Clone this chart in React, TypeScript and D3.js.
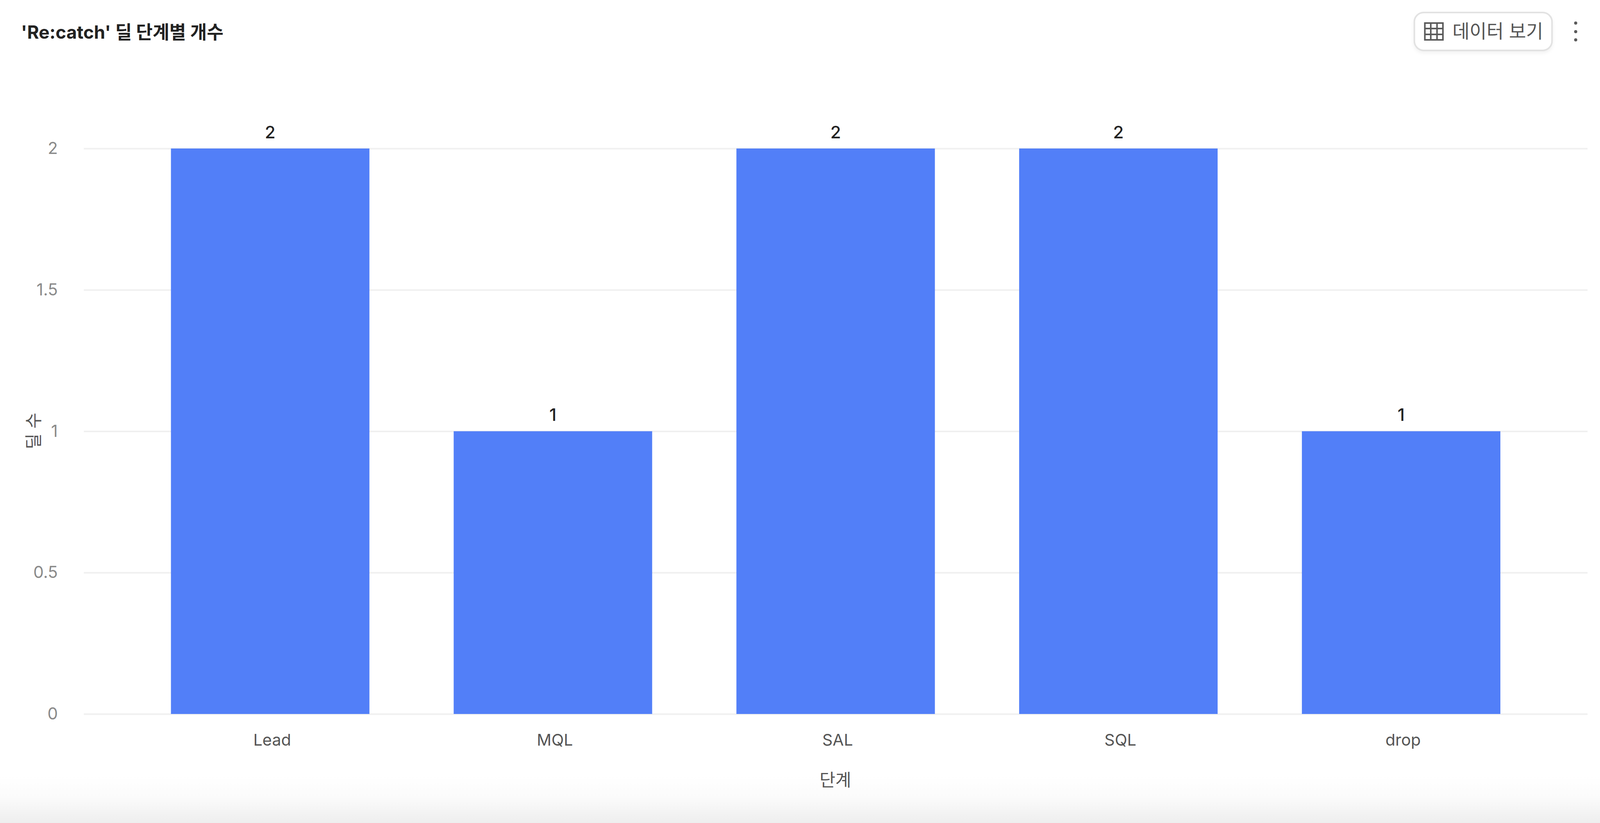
import { useEffect, useRef } from "react";
import * as d3 from "d3";

// medidas de la referencia
const REF_W = 4869;
const REF_H = 2106;
const FONT = "Inter, 'Noto Sans CJK KR', sans-serif";

const categories = ["Lead", "MQL", "SAL", "SQL", "drop"];
const dealCounts = [2, 1, 2, 2, 1];
const yTicks = [0, 0.5, 1, 1.5, 2];

const chartTitle = "'Re:catch' 딜 단계별 개수";
const xTitle = "단계";
const yTitle = "딜 수";
const buttonLabel = "데이터 보기";

export default function App() {
  const ref = useRef<SVGSVGElement>(null);

  useEffect(() => {
    if (!ref.current) return;
    // la ventana real puede ser más estrecha que la referencia
    const W = Math.min(window.innerWidth, REF_W);
    const H = Math.min(window.innerHeight, REF_H);
    const X = d3.scaleLinear().domain([0, REF_W]).range([0, W]);
    const Y = d3.scaleLinear().domain([0, REF_H]).range([0, H]);
    const sx = W / REF_W;
    const sy = H / REF_H;
    const fs = (size: number) => size * (sx * 0.75 + sy * 0.25);

    const svg = d3.select(ref.current);
    svg.selectAll("*").remove();
    svg.attr("width", W).attr("height", H).style("font-family", FONT);

    const x = d3
      .scaleBand<string>()
      .domain(categories)
      .range([X(392), X(4694)])
      .paddingInner(0.298)
      .paddingOuter(0.149);
    const y = d3.scaleLinear().domain([0, 2]).range([Y(1827), Y(380)]);

    // fondo y sombra inferior
    const defs = svg.append("defs");
    const fade = defs
      .append("linearGradient")
      .attr("id", "fade")
      .attr("x1", 0)
      .attr("x2", 0)
      .attr("y1", 0)
      .attr("y2", 1);
    fade.append("stop").attr("offset", 0).attr("stop-color", "#ffffff");
    fade.append("stop").attr("offset", 0.45).attr("stop-color", "#fbfbfb");
    fade.append("stop").attr("offset", 1).attr("stop-color", "#eeeeee");

    svg.append("rect").attr("width", W).attr("height", H).attr("fill", "#fff");
    svg
      .append("rect")
      .attr("y", Y(1986))
      .attr("width", W)
      .attr("height", H - Y(1986))
      .attr("fill", "url(#fade)");

    // eje Y con rejilla
    const yAxis = svg
      .append("g")
      .attr("transform", `translate(${X(255)},0)`)
      .call(
        d3
          .axisLeft(y)
          .tickValues(yTicks)
          .tickFormat((d) => String(d))
          .tickSize(-(X(4831) - X(255)))
          .tickPadding(X(79))
      );
    yAxis.select(".domain").remove();
    yAxis.selectAll(".tick line").attr("stroke", "#f0f0f0").attr("stroke-width", 4);
    yAxis
      .selectAll(".tick text")
      .attr("fill", "#8a8a8a")
      .attr("font-size", fs(48))
      .attr("font-family", FONT);

    // barras
    svg
      .selectAll(".bar")
      .data(categories)
      .enter()
      .append("rect")
      .attr("class", "bar")
      .attr("x", (d) => x(d) || 0)
      .attr("y", (_, i) => y(dealCounts[i]))
      .attr("width", x.bandwidth())
      .attr("height", (_, i) => y(0) - y(dealCounts[i]))
      .attr("fill", "#527ff8");

    // etiquetas de valor
    svg
      .selectAll(".label")
      .data(categories)
      .enter()
      .append("text")
      .attr("class", "label")
      .attr("x", (d) => (x(d) || 0) + x.bandwidth() / 2)
      .attr("y", (_, i) => y(dealCounts[i]) - Y(42))
      .attr("dy", "0.36em")
      .attr("text-anchor", "middle")
      .attr("font-size", fs(50))
      .attr("font-weight", 500)
      .attr("fill", "#222222")
      .text((_, i) => dealCounts[i]);

    // eje X
    const xAxis = svg
      .append("g")
      .attr("transform", `translate(${X(6)},${y(0)})`)
      .call(d3.axisBottom(x).tickSize(0).tickPadding(Y(66) - fs(47) * 0.35));
    xAxis.select(".domain").remove();
    xAxis
      .selectAll(".tick text")
      .attr("fill", "#555555")
      .attr("font-size", fs(47))
      .attr("font-family", FONT);

    // títulos
    svg
      .append("text")
      .attr("x", X(64))
      .attr("y", Y(82))
      .attr("dy", "0.36em")
      .attr("font-size", fs(52.5))
      .attr("font-weight", 700)
      .attr("fill", "#222222")
      .text(chartTitle);
    svg
      .append("text")
      .attr("x", X(2542))
      .attr("y", Y(1996))
      .attr("dy", "0.36em")
      .attr("text-anchor", "middle")
      .attr("font-size", fs(50))
      .attr("fill", "#555555")
      .text(xTitle);
    svg
      .append("text")
      .attr("transform", `translate(${X(102)},${Y(1103)}) rotate(-90)`)
      .attr("dy", "0.36em")
      .attr("text-anchor", "middle")
      .attr("font-size", fs(50))
      .attr("fill", "#555555")
      .text(yTitle);

    // botón "데이터 보기"
    const shadow = defs.append("filter").attr("id", "btnShadow").attr("y", "-20%").attr("height", "150%");
    shadow
      .append("feDropShadow")
      .attr("dx", 0)
      .attr("dy", 5)
      .attr("stdDeviation", 4)
      .attr("flood-color", "#000")
      .attr("flood-opacity", 0.05);
    svg
      .append("rect")
      .attr("x", X(4304))
      .attr("y", Y(32))
      .attr("width", X(419))
      .attr("height", Y(97))
      .attr("rx", 24)
      .attr("fill", "#fff")
      .attr("stroke", "#e2e2e2")
      .attr("stroke-width", 4)
      .attr("filter", "url(#btnShadow)");

    // icono de tabla
    const icon = svg.append("g").attr("fill", "none").attr("stroke", "#5a5a5a").attr("stroke-width", 4);
    icon
      .append("rect")
      .attr("x", X(4336))
      .attr("y", Y(59))
      .attr("width", X(55))
      .attr("height", Y(43));
    [4354, 4373].forEach((gx) =>
      icon.append("line").attr("x1", X(gx)).attr("x2", X(gx)).attr("y1", Y(59)).attr("y2", Y(102))
    );
    [73, 88].forEach((gy) =>
      icon.append("line").attr("x1", X(4336)).attr("x2", X(4391)).attr("y1", Y(gy)).attr("y2", Y(gy))
    );

    svg
      .append("text")
      .attr("x", X(4420))
      .attr("y", Y(80))
      .attr("dy", "0.36em")
      .attr("font-size", fs(54))
      .attr("fill", "#555555")
      .text(buttonLabel);

    // menú de tres puntos
    svg
      .selectAll(".dot")
      .data([59, 81, 102])
      .enter()
      .append("circle")
      .attr("class", "dot")
      .attr("cx", X(4795))
      .attr("cy", (d) => Y(d))
      .attr("r", 4)
      .attr("fill", "#5a5a5a");
  }, []);

  return <svg ref={ref} style={{ position: "absolute", left: 0, top: 0, display: "block" }} />;
}
